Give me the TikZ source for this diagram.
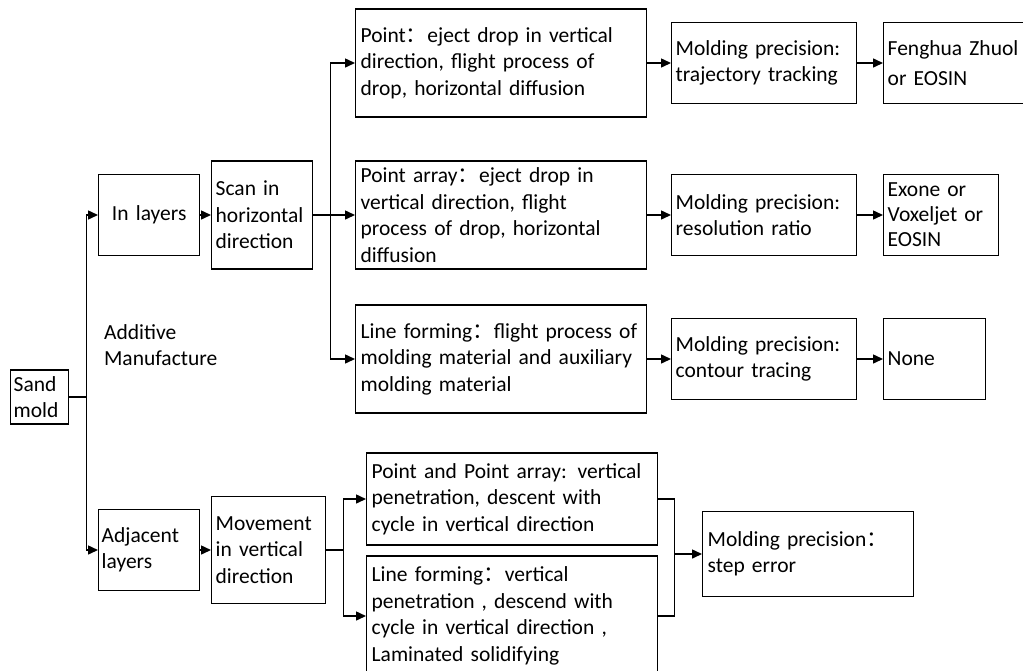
\documentclass[tikz,border=0pt]{standalone}
\usepackage{fontspec}
\setmainfont{Carlito}
\newfontfamily\cjk{Noto Sans CJK SC}
\usetikzlibrary{arrows.meta}

\tikzset{
	blk/.style={draw, line width=1.4pt, anchor=west, align=left, inner xsep=5pt, inner ysep=0pt,
		font=\fontsize{21.5pt}{26.5pt}\selectfont},
}
\newcommand{\fwc}{{\cjk ：}}

\begin{document}
\begin{tikzpicture}[x=1pt, y=-1pt, line width=1.5pt, >={Triangle[length=10pt,width=9pt]}]
	\path[use as bounding box, clip] (0,0) rectangle (1023,670);
	
	% left part
	\node[blk, inner xsep=3pt, text width=52pt, minimum height=54pt] (sand) at (10,397) {Sand\\mold};
	\node[blk, align=center, text width=91pt, minimum height=81pt] (inl) at (98,215) {In layers};
	\node[blk, inner xsep=4pt, text width=93pt, minimum height=108pt] (scan) at (211,215) {Scan in\\horizontal\\direction};
	\node[anchor=west, align=left, font=\fontsize{21.5pt}{26.5pt}\selectfont] (am) at (100,345) {Additive\\Manufacture};
	\node[blk, inner xsep=3pt, text width=95pt, minimum height=81pt] (adj) at (98,550) {Adjacent\\layers};
	\node[blk, inner xsep=4pt, text width=106pt, minimum height=107pt] (mov) at (211,550) {Movement\\in vertical\\direction};
	
	% in layers branch
	\node[blk, text width=281pt, minimum height=108pt] (pt) at (355,63) {Point\fwc eject drop in vertical\\direction, flight process of\\drop, horizontal diffusion};
	\node[blk, text width=281pt, minimum height=108pt] (pta) at (355,215) {Point array\fwc eject drop in\\vertical direction, flight\\process of drop, horizontal\\diffusion};
	\node[blk, text width=281pt, minimum height=108pt] (lf) at (355,359) {Line forming\fwc flight process of\\molding material and auxiliary\\molding material};
	
	\node[blk, inner xsep=4pt, text width=177pt, minimum height=81pt] (mp1) at (671,63) {Molding precision:\\trajectory tracking};
	\node[blk, inner xsep=4pt, text width=177pt, minimum height=81pt] (mp2) at (671,215) {Molding precision:\\resolution ratio};
	\node[blk, inner xsep=4pt, text width=177pt, minimum height=81pt] (mp3) at (671,359) {Molding precision:\\contour tracing};
	
	\node[blk, inner xsep=4pt, text width=190pt, minimum height=81pt, font=\fontsize{21.5pt}{30pt}\selectfont] (fz) at (883,63) {Fenghua Zhuol\\or EOSIN};
	\node[blk, inner xsep=4pt, text width=107pt, minimum height=81pt, font=\fontsize{21.5pt}{25pt}\selectfont] (ex) at (883,215) {Exone or\\Voxeljet or\\EOSIN};
	\node[blk, inner xsep=4pt, text width=94pt, minimum height=81pt] (none) at (883,359) {None};
	
	% adjacent layers branch
	\node[blk, text width=281pt, minimum height=92pt] (ppa) at (366,499) {Point and Point array: vertical\\penetration, descent with\\cycle in vertical direction};
	\node[blk, text width=281pt, minimum height=120pt] (lfb) at (366,616) {Line forming\fwc vertical\\penetration , descend with\\cycle in vertical direction ,\\Laminated solidifying};
	\node[blk, text width=201pt, minimum height=85pt] (step) at (702,554) {Molding precision\fwc\\step error};
	
	% connectors
	\draw[->] (sand.east) -- ++(17,0) |- (inl.west);
	\draw[->] (sand.east) -- ++(17,0) |- (adj.west);
	\draw[->] (inl) -- (scan);
	\draw[->] (adj) -- (mov);
	
	\draw[->] (scan.east) -- ++(17,0) |- (pt.west);
	\draw[->] (scan.east) -- (pta.west);
	\draw[->] (scan.east) -- ++(17,0) |- (lf.west);
	\draw[->] (pt) -- (mp1);
	\draw[->] (pta) -- (mp2);
	\draw[->] (lf) -- (mp3);
	\draw[->] (mp1) -- (fz);
	\draw[->] (mp2) -- (ex);
	\draw[->] (mp3) -- (none);
	
	\draw[->] (mov.east) -- ++(17,0) |- (ppa.west);
	\draw[->] (mov.east) -- ++(17,0) |- (lfb.west);
	\draw (ppa.east) -- ++(16,0) coordinate (brk) |- (lfb.east);
	\draw[->] (brk |- step.west) -- (step.west);
\end{tikzpicture}
\end{document}
